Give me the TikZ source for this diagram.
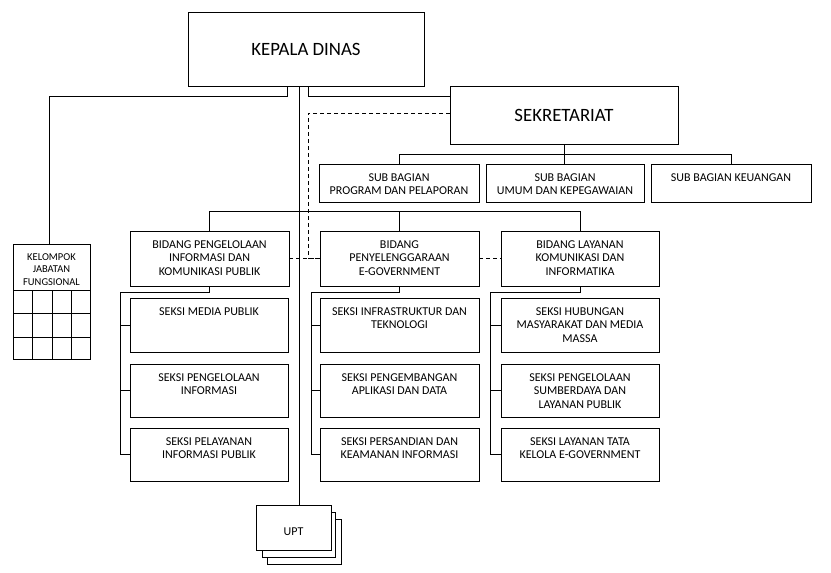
\documentclass[tikz,border=0pt]{standalone}
\usepackage{fontspec}
\setmainfont{Carlito}
\usetikzlibrary{calc}
\begin{document}
\begin{tikzpicture}[x=1pt,y=-1pt,line width=0.8pt,
  box/.style={draw,rectangle,inner sep=0pt,outer sep=0pt,fill=white},
  lbl/.style={font=\fontsize{12}{13.7}\selectfont,align=center,anchor=north,inner sep=0pt},
  big/.style={font=\fontsize{18.8}{22}\selectfont},
  dsh/.style={dash pattern=on 4pt off 3pt},
  sk/.style={box,minimum height=53pt},
  c1/.style={sk,minimum width=158pt},
  c2/.style={sk,minimum width=159pt},
  c3/.style={sk,minimum width=158pt},
  tl/.style={label={[lbl,yshift=-9pt]north:{#1}}}]
\useasboundingbox (0,0) rectangle (831,573);
% top
\node[box,minimum width=236pt,minimum height=74pt,big] (kd) at (306,49) {KEPALA DINAS};
\node[box,minimum width=228pt,minimum height=58pt,font=\fontsize{18.8}{21}\selectfont] (sek) at (564,115) {SEKRETARIAT};
% sub bagian
\node[box,minimum width=160pt,minimum height=38pt,tl={SUB BAGIAN\\PROGRAM DAN PELAPORAN}] (sb1) at (399,183) {};
\node[box,minimum width=158pt,minimum height=38pt,tl={SUB BAGIAN\\UMUM DAN KEPEGAWAIAN}] (sb2) at (565,183) {};
\node[box,minimum width=160pt,minimum height=38pt,tl={SUB BAGIAN KEUANGAN}] (sb3) at (731,183) {};
% bidang
\node[box,minimum width=159pt,minimum height=55pt,tl={BIDANG PENGELOLAAN\\INFORMASI DAN\\KOMUNIKASI PUBLIK}] (bd1) at (209.5,258.5) {};
\node[box,minimum width=159pt,minimum height=55pt,tl={BIDANG\\PENYELENGGARAAN\\E-GOVERNMENT}] (bd2) at (399.5,258.5) {};
\node[box,minimum width=158pt,minimum height=55pt,tl={BIDANG LAYANAN\\KOMUNIKASI DAN\\INFORMATIKA}] (bd3) at (580,258.5) {};
% seksi column 1
\node[c1,minimum height=54pt,tl={SEKSI MEDIA PUBLIK}] (s11) at (209,325) {};
\node[c1,tl={SEKSI PENGELOLAAN\\INFORMASI}] (s12) at (209,390.5) {};
\node[c1,tl={SEKSI PELAYANAN\\INFORMASI PUBLIK}] (s13) at (209,454.5) {};
% seksi column 2
\node[c2,minimum height=54pt,tl={SEKSI INFRASTRUKTUR DAN\\TEKNOLOGI}] (s21) at (399.5,325) {};
\node[c2,tl={SEKSI PENGEMBANGAN\\APLIKASI DAN DATA}] (s22) at (399.5,390.5) {};
\node[c2,tl={SEKSI PERSANDIAN DAN\\KEAMANAN INFORMASI}] (s23) at (399.5,454.5) {};
% seksi column 3
\node[c3,minimum height=54pt,tl={SEKSI HUBUNGAN\\MASYARAKAT DAN MEDIA\\MASSA}] (s31) at (580,325) {};
\node[c3,tl={SEKSI PENGELOLAAN\\SUMBERDAYA DAN\\LAYANAN PUBLIK}] (s32) at (580,390.5) {};
\node[c3,tl={SEKSI LAYANAN TATA\\KELOLA E-GOVERNMENT}] (s33) at (580,454.5) {};
% kelompok jabatan fungsional
\node[box,minimum width=77pt,minimum height=115pt,
  label={[lbl,font=\fontsize{10.5}{12.5}\selectfont,yshift=-9pt]north:{KELOMPOK\\JABATAN\\FUNGSIONAL}}] (kjf) at (51.5,301.5) {};
\foreach \yy in {290,313,337} \draw (13,\yy) -- (90,\yy);
\foreach \xx in {32,52,71} \draw (\xx,290) -- (\xx,359);
% UPT stack
\node[box,minimum width=74pt,minimum height=45pt] (upt3) at (304,541.5) {};
\node[box,minimum width=73pt,minimum height=45pt] (upt2) at (298.5,534.5) {};
\node[box,minimum width=75pt,minimum height=45pt,font=\fontsize{12}{13.7}\selectfont,text depth=0pt,text height=8pt,yshift=0pt] (upt1) at (293.5,527.5) {\raisebox{-4pt}{UPT}};
% connectors from kepala dinas
\coordinate (mainx) at ([xshift=-7pt]kd.south);
\draw (mainx) -- (mainx |- upt1.north);
\draw ([xshift=-19pt]kd.south) -- ++(0,10) -| ([xshift=-2.5pt]kjf.north);
\draw ([xshift=2pt]kd.south) |- ([yshift=19pt]sek.west);
% dashed
\draw[dsh] ([yshift=2pt]sek.west) -| ($(bd2.west)+(-12,0)$) -- (bd2.west);
\draw[dsh] (bd1.east) -- (bd2.west);
\draw[dsh] (bd2.east) -- (bd3.west);
% sekretariat
\draw (sek.south) -- (sek.south |- sb2.north);
\draw (sb1.north) -- ++(0,-10) -| (sb3.north);
% bidang
\draw (bd1.north) -- ++(0,-20) -| (bd3.north);
\draw (bd2.north) -- ++(0,-20);
% brackets
\draw (bd1.south) -- ++(0,6) -| ($(s13.west)+(-10,0)$) -- (s13.west);
\draw (s11.west) -- ++(-10,0);
\draw (s12.west) -- ++(-10,0);
\draw (bd2.south) -- ++(0,6) -| ($(s23.west)+(-9,0)$) -- (s23.west);
\draw (s21.west) -- ++(-9,0);
\draw (s22.west) -- ++(-9,0);
\draw (bd3.south) -- ++(0,6) -| ($(s33.west)+(-11,0)$) -- (s33.west);
\draw (s31.west) -- ++(-11,0);
\draw (s32.west) -- ++(-11,0);
\end{tikzpicture}
\end{document}
